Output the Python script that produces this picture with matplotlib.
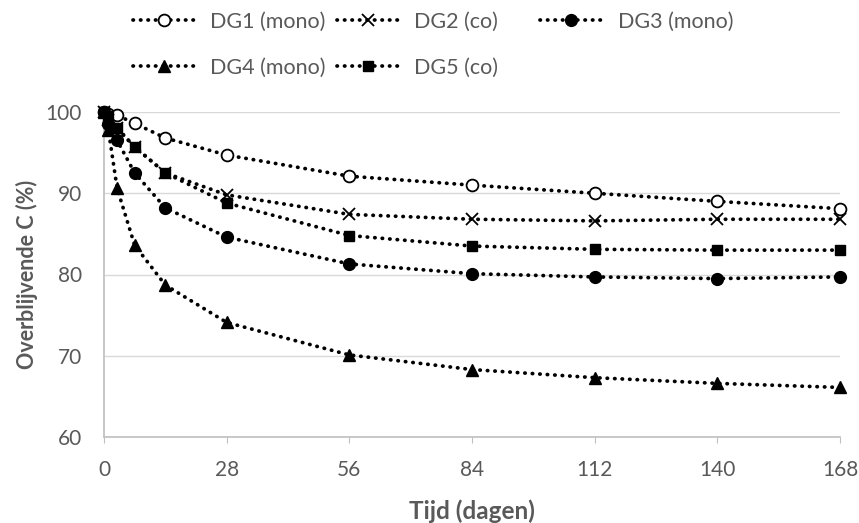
import matplotlib
matplotlib.use("Agg")
import matplotlib.pyplot as plt

days = [0, 1, 3, 7, 14, 28, 56, 84, 112, 140, 168]
dg1 = [100, 99.8, 99.6, 98.6, 96.8, 94.7, 92.1, 91.0, 90.0, 89.0, 88.1]
dg2 = [100, 99.0, 98.0, 95.7, 92.5, 89.8, 87.4, 86.8, 86.6, 86.8, 86.8]
dg3 = [100, 98.5, 96.5, 92.5, 88.2, 84.6, 81.3, 80.1, 79.7, 79.5, 79.7]
dg4 = [100, 97.8, 90.6, 83.6, 78.7, 74.1, 70.1, 68.3, 67.3, 66.6, 66.1]
dg5 = [100, 99.5, 98.0, 95.7, 92.5, 88.8, 84.8, 83.5, 83.1, 83.0, 83.0]
labels = ["DG1 (mono)", "DG2 (co)", "DG3 (mono)", "DG4 (mono)", "DG5 (co)"]
xticks = [0, 28, 56, 84, 112, 140, 168]
yticks = [60, 70, 80, 90, 100]

plt.rcParams['font.family'] = ['Lato', 'DejaVu Sans']
grey = '#595959'
W, H = 859, 523

fig = plt.figure(figsize=(W / 100, H / 100), dpi=100)
ax = fig.add_axes([104 / W, 1 - 437 / H, 736 / W, 325 / H])

styles = [
    dict(marker='o', mfc='white', mec='black', ms=8.5, mew=1.3),
    dict(marker='x', mfc='black', mec='black', ms=9, mew=1.3),
    dict(marker='o', mfc='black', mec='black', ms=8.5),
    dict(marker='^', mfc='black', mec='black', ms=8.5),
    dict(marker='s', mfc='black', mec='black', ms=7.5),
]
handles = []
for data, lab, st in zip([dg1, dg2, dg3, dg4, dg5], labels, styles):
    h, = ax.plot(days, data, color='black', linestyle=(0, (0.1, 1.9)), lw=2.7,
                 dash_capstyle='round', label=lab, clip_on=False, zorder=3, **st)
    handles.append(h)

ax.set_xlim(0, 168)
ax.set_ylim(60, 100)
ax.set_xticks(xticks)
ax.set_yticks(yticks)
ax.grid(axis='y', color='#d9d9d9', lw=1)
ax.set_axisbelow(True)
for s in ['top', 'right']:
    ax.spines[s].set_visible(False)
for s in ['left', 'bottom']:
    ax.spines[s].set_color('#bfbfbf')
    ax.spines[s].set_linewidth(1.2)
ax.tick_params(axis='y', length=0, labelsize=15, colors=grey, pad=16)
ax.tick_params(axis='x', length=4.5, color='#bfbfbf', labelsize=15, labelcolor=grey, pad=12)
ax.set_xlabel('Tijd (dagen)', fontsize=17.5, fontweight='bold', color=grey, labelpad=14)
ax.set_ylabel('Overblijvende C (%)', fontsize=15.5, fontweight='bold', color=grey, labelpad=5)

# legend entries placed like the reference (fixed column positions)
pos = [(133, 22), (337, 22), (540, 22), (133, 68), (337, 68)]
for h, lab, (px, py) in zip(handles, labels, pos):
    fig.legend([h], [lab], loc='center left', bbox_to_anchor=(px / W, 1 - py / H),
               bbox_transform=fig.transFigure, frameon=False, fontsize=15.5,
               labelcolor=grey, handlelength=2.9, handletextpad=0.7,
               borderpad=0, borderaxespad=0)

fig.savefig('out.png', dpi=100)
